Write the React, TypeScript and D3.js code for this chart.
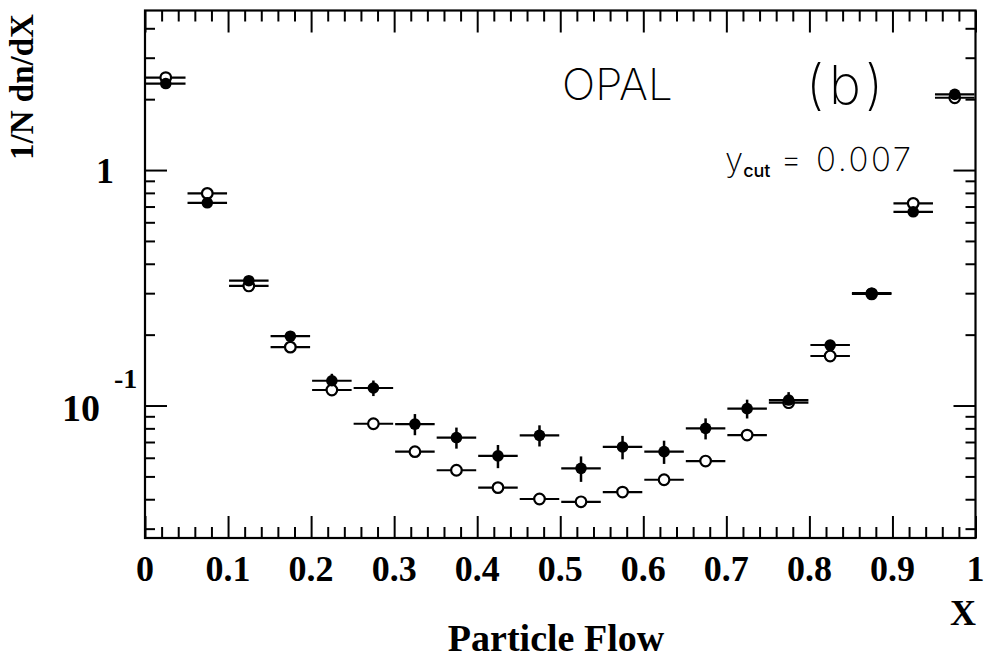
import React, { useEffect, useRef } from "react";
import * as d3 from "d3";

// bin centres of the particle flow histogram (bin width 0.05)
const binCenters = [
  0.025, 0.075, 0.125, 0.175, 0.225, 0.275, 0.325, 0.375, 0.425, 0.475,
  0.525, 0.575, 0.625, 0.675, 0.725, 0.775, 0.825, 0.875, 0.925, 0.975,
];
const binHalfWidth = 0.025;

// filled points (data)
const filledValues = [
  2.33, 0.726, 0.339, 0.197, 0.1274, 0.1187, 0.0834, 0.0731, 0.0611, 0.0747,
  0.0541, 0.0667, 0.0637, 0.08, 0.097, 0.1055, 0.1807, 0.3, 0.665, 2.096,
];
const filledErrors = [
  0.07, 0.022, 0.01, 0.008, 0.009, 0.009, 0.0086, 0.0075, 0.0069, 0.0077,
  0.0067, 0.0076, 0.0072, 0.0082, 0.0089, 0.0085, 0.009, 0.009, 0.02, 0.06,
];

// open points
const openValues = [
  2.47, 0.796, 0.322, 0.177, 0.1164, 0.0837, 0.0637, 0.0531, 0.0448, 0.0401,
  0.039, 0.0429, 0.0484, 0.0581, 0.0749, 0.1028, 0.1623, 0.298, 0.722, 2.028,
];

const xTickValues = [0, 0.1, 0.2, 0.3, 0.4, 0.5, 0.6, 0.7, 0.8, 0.9, 1];
const xTickLabels = ["0", "0.1", "0.2", "0.3", "0.4", "0.5", "0.6", "0.7", "0.8", "0.9", "1"];
const yMajorTicks = [0.1, 1];
const yMinorTicks = [0.03, 0.04, 0.05, 0.06, 0.07, 0.08, 0.09, 0.2, 0.3, 0.4, 0.5, 0.6, 0.7, 0.8, 0.9, 2, 3, 4];

const W = 986;
const H = 662;
const serif = "'Liberation Serif', 'Times New Roman', serif";
const thin = "Inter, 'DejaVu Sans', sans-serif";

export default function App() {
  const ref = useRef<SVGSVGElement>(null);

  useEffect(() => {
    const svg = d3.select(ref.current);
    svg.selectAll("*").remove();

    const left = 145, right = 975.5, top = 10.5, bottom = 538;
    const x = d3.scaleLinear().domain([0, 1]).range([left, right]);
    const y = d3.scaleLog().domain([0.02738, 4.76]).range([bottom, top]);

    const xMinor = d3
      .range(0, 1.0001, 0.02)
      .filter((v) => Math.abs(v * 10 - Math.round(v * 10)) > 1e-6);

    const styleTicks = (g: any) => {
      g.select(".domain").remove();
      g.selectAll(".tick line").attr("stroke", "#000").attr("stroke-width", 2);
    };
    const noLabel = () => "";

    // ticks, all pointing inward
    const axes: [any, string][] = [
      [d3.axisBottom(x).tickValues(xTickValues).tickSize(-22), `translate(0,${bottom})`],
      [d3.axisBottom(x).tickValues(xMinor).tickSize(-11), `translate(0,${bottom})`],
      [d3.axisTop(x).tickValues(xTickValues).tickSize(-22), `translate(0,${top})`],
      [d3.axisTop(x).tickValues(xMinor).tickSize(-11), `translate(0,${top})`],
      [d3.axisLeft(y).tickValues(yMajorTicks).tickSize(-22), `translate(${left},0)`],
      [d3.axisLeft(y).tickValues(yMinorTicks).tickSize(-10), `translate(${left},0)`],
      [d3.axisRight(y).tickValues(yMajorTicks).tickSize(-22), `translate(${right},0)`],
      [d3.axisRight(y).tickValues(yMinorTicks).tickSize(-10), `translate(${right},0)`],
    ];
    axes.forEach(([ax, tr]) => {
      svg.append("g").attr("transform", tr).call(ax.tickSizeOuter(0).tickFormat(noLabel)).call(styleTicks);
    });

    // frame
    svg
      .append("rect")
      .attr("x", left)
      .attr("y", top)
      .attr("width", right - left)
      .attr("height", bottom - top)
      .attr("fill", "none")
      .attr("stroke", "#000")
      .attr("stroke-width", 2.2);

    // x tick labels
    svg
      .append("g")
      .selectAll("text")
      .data(xTickValues)
      .enter()
      .append("text")
      .attr("x", (d) => x(d))
      .attr("y", 581)
      .attr("text-anchor", "middle")
      .attr("font-family", serif)
      .attr("font-weight", "bold")
      .attr("font-size", 36)
      .text((d, i) => xTickLabels[i]);

    // y tick labels
    svg
      .append("text")
      .attr("x", 114)
      .attr("y", y(1) + 13)
      .attr("text-anchor", "end")
      .attr("font-family", serif)
      .attr("font-weight", "bold")
      .attr("font-size", 36)
      .text("1");
    svg
      .append("text")
      .attr("x", 100)
      .attr("y", y(0.1) + 15)
      .attr("text-anchor", "end")
      .attr("font-family", serif)
      .attr("font-weight", "bold")
      .attr("font-size", 38)
      .text("10");
    svg
      .append("text")
      .attr("x", 114)
      .attr("y", y(0.1) - 18)
      .attr("font-family", serif)
      .attr("font-weight", "bold")
      .attr("font-size", 28)
      .text("-1");

    // axis titles
    svg
      .append("text")
      .attr("transform", `translate(33,87) rotate(-90)`)
      .attr("text-anchor", "middle")
      .attr("font-family", serif)
      .attr("font-weight", "bold")
      .attr("font-size", 33)
      .text("1/N dn/dX");
    svg
      .append("text")
      .attr("x", 976)
      .attr("y", 625)
      .attr("text-anchor", "end")
      .attr("font-family", serif)
      .attr("font-weight", "bold")
      .attr("font-size", 36)
      .text("X");
    svg
      .append("text")
      .attr("x", 556)
      .attr("y", 651)
      .attr("text-anchor", "middle")
      .attr("font-family", serif)
      .attr("font-weight", "bold")
      .attr("font-size", 38)
      .text("Particle Flow");

    // annotations
    svg
      .append("text")
      .attr("x", 562)
      .attr("y", 100)
      .attr("font-family", thin)
      .attr("font-weight", 200)
      .attr("font-size", 44)
      .text("OPAL");
    svg
      .append("text")
      .attr("x", 806)
      .attr("y", 104)
      .attr("font-family", thin)
      .attr("font-weight", 200)
      .attr("font-size", 54)
      .attr("letter-spacing", 5)
      .text("(b)");
    const yc = svg
      .append("text")
      .attr("x", 725)
      .attr("y", 171)
      .attr("font-family", thin)
      .attr("font-weight", 200)
      .attr("font-size", 33);
    yc.append("tspan").text("y");
    yc.append("tspan").attr("dy", 6).attr("font-size", 18).attr("font-weight", 500).text("cut");
    yc.append("tspan").attr("dy", -6).attr("dx", 10).attr("letter-spacing", 2.5).text("= 0.007");

    const marks = svg.append("g");

    // horizontal bin bars
    const hbar = (vals: number[]) =>
      marks
        .append("g")
        .selectAll("line")
        .data(vals)
        .enter()
        .append("line")
        .attr("x1", (d, i) => x(binCenters[i] - binHalfWidth) + 1)
        .attr("x2", (d, i) => x(binCenters[i] + binHalfWidth) - 1)
        .attr("y1", (d) => y(d))
        .attr("y2", (d) => y(d))
        .attr("stroke", "#000")
        .attr("stroke-width", 2.2);
    hbar(openValues);
    hbar(filledValues);

    // vertical error bars on filled points
    marks
      .append("g")
      .selectAll("line")
      .data(filledValues)
      .enter()
      .append("line")
      .attr("x1", (d, i) => x(binCenters[i]))
      .attr("x2", (d, i) => x(binCenters[i]))
      .attr("y1", (d, i) => y(d - filledErrors[i]))
      .attr("y2", (d, i) => y(d + filledErrors[i]))
      .attr("stroke", "#000")
      .attr("stroke-width", 2.5);

    // open circles
    marks
      .append("g")
      .selectAll("circle")
      .data(openValues)
      .enter()
      .append("circle")
      .attr("cx", (d, i) => x(binCenters[i]))
      .attr("cy", (d) => y(d))
      .attr("r", 5.3)
      .attr("fill", "#fff")
      .attr("stroke", "#000")
      .attr("stroke-width", 2.2);

    // filled circles
    marks
      .append("g")
      .selectAll("circle")
      .data(filledValues)
      .enter()
      .append("circle")
      .attr("cx", (d, i) => x(binCenters[i]))
      .attr("cy", (d) => y(d))
      .attr("r", 5.8)
      .attr("fill", "#000");
  }, []);

  return (
    <svg
      ref={ref}
      width={W}
      height={H}
      style={{ position: "absolute", left: 0, top: 0, background: "#fff" }}
    />
  );
}
